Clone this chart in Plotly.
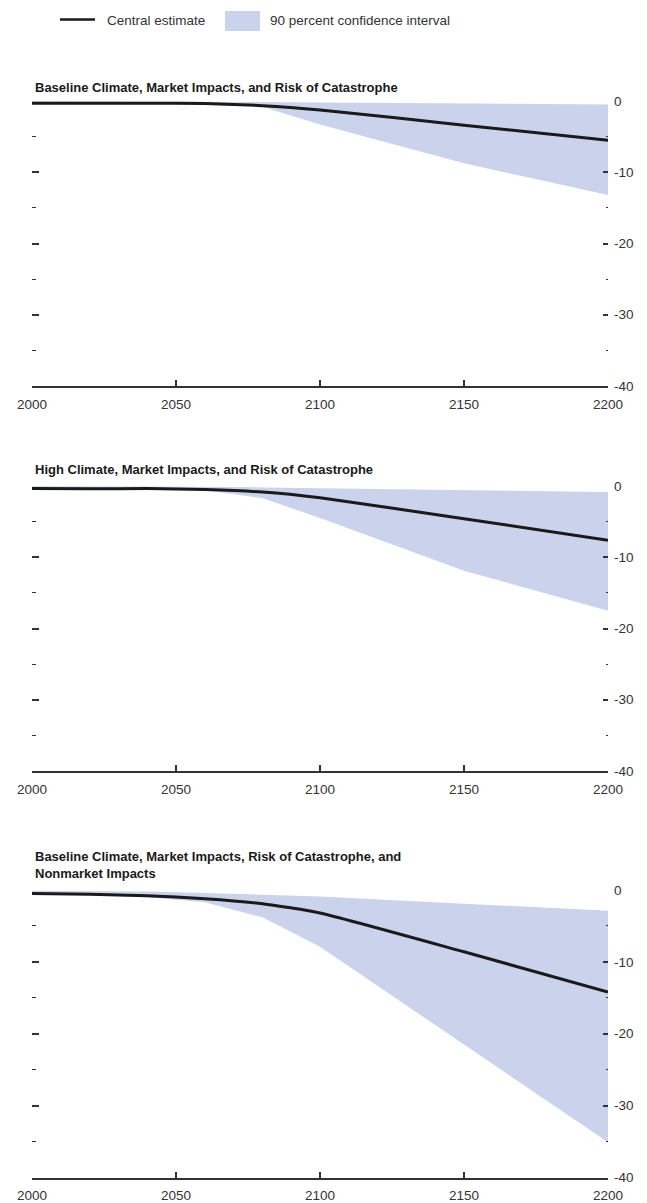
import plotly.graph_objects as go

# The page body adds an 8px margin, so the figure is sized to fit inside it
PAGE_W, PAGE_H = 647, 1203
OFF = 8
W, H = PAGE_W - OFF, PAGE_H - OFF

# ---------------- data ----------------
years = [2000, 2020, 2040, 2060, 2080, 2100, 2150, 2200]

title_1 = "Baseline Climate, Market Impacts, and Risk of Catastrophe"
central_1 = [-0.3, -0.3, -0.3, -0.35, -0.65, -1.25, -3.4, -5.5]
lower_1 = [-0.3, -0.3, -0.35, -0.45, -0.8, -3.3, -8.75, -13.2]
upper_1 = [-0.05, -0.05, -0.05, -0.1, -0.15, -0.2, -0.35, -0.5]

title_2 = "High Climate, Market Impacts, and Risk of Catastrophe"
central_2 = [-0.35, -0.4, -0.35, -0.5, -0.85, -1.65, -4.6, -7.6]
lower_2 = [-0.35, -0.4, -0.4, -0.6, -1.7, -4.5, -11.9, -17.5]
upper_2 = [-0.05, -0.05, -0.05, -0.1, -0.2, -0.3, -0.6, -0.85]

title_3 = "Baseline Climate, Market Impacts, Risk of Catastrophe, and<br>Nonmarket Impacts"
central_3 = [-0.5, -0.6, -0.8, -1.2, -1.9, -3.2, -8.6, -14.2]
lower_3 = [-0.6, -0.7, -1.0, -1.7, -3.8, -7.9, -21.5, -35.1]
upper_3 = [-0.1, -0.1, -0.2, -0.4, -0.6, -0.9, -1.9, -2.9]

x_ticks = [2000, 2050, 2100, 2150, 2200]
y_ticks = [-40, -30, -20, -10, 0]
y_tick_text = ["-40", "-30", "-20", "-10", "0"]
y_minor = [-35, -25, -15, -5]

legend_line_label = "Central estimate"
legend_band_label = "90 percent confidence interval"

# ---------------- style ----------------
FONT = "Liberation Sans, Arial, sans-serif"
BAND = "rgb(203,211,236)"
INK = "#1a1a1a"
AX = "#333333"
TICKSIZE = 13.5


def px_x(p):
    return (p - OFF) / W


def px_y(p):
    return 1 - (p - OFF) / H


panels = [
    (title_1, central_1, lower_1, upper_1, 101, 386, 87),
    (title_2, central_2, lower_2, upper_2, 486, 771, 469),
    (title_3, central_3, lower_3, upper_3, 890, 1177.5, 865),
]

fig = go.Figure()
layout = dict(
    width=W, height=H, autosize=False,
    margin=dict(l=0, r=0, t=0, b=0, pad=0),
    paper_bgcolor="white", plot_bgcolor="rgba(0,0,0,0)",
    showlegend=False,
    font=dict(family=FONT, size=TICKSIZE, color=AX),
)
annotations = []
shapes = []

xdom = [px_x(32), px_x(608)]

for i, (title, cen, lo, hi, top, bot, ty) in enumerate(panels, start=1):
    s = "" if i == 1 else str(i)
    r = str(i + 3)
    fig.add_trace(go.Scatter(x=years, y=lo, xaxis="x" + s, yaxis="y" + s,
                             mode="lines", line=dict(width=0, color=BAND),
                             hoverinfo="skip"))
    fig.add_trace(go.Scatter(x=years, y=hi, xaxis="x" + s, yaxis="y" + s,
                             mode="lines", line=dict(width=0, color=BAND),
                             fill="tonexty", fillcolor=BAND, hoverinfo="skip"))
    fig.add_trace(go.Scatter(x=years, y=cen, xaxis="x" + s, yaxis="y" + r,
                             mode="lines",
                             line=dict(width=3, color=INK, shape="spline", smoothing=0.5)))

    layout["xaxis" + s] = dict(
        domain=xdom, anchor="y" + s, range=[2000, 2200], automargin=False,
        tickmode="array", tickvals=x_ticks,
        ticks="inside", ticklen=6, tickwidth=1.5, tickcolor=AX,
        showline=True, linecolor=AX, linewidth=1.5,
        showgrid=False, zeroline=False,
        tickfont=dict(size=TICKSIZE, color=AX, family=FONT),
        ticklabelstandoff=5,
    )
    ydom = [px_y(bot), px_y(top)]
    layout["yaxis" + s] = dict(
        domain=ydom, anchor="x" + s, range=[-40, 0], automargin=False,
        tickmode="array", tickvals=y_ticks,
        ticks="inside", ticklen=7, tickwidth=1.5, tickcolor=AX,
        minor=dict(tickvals=y_minor, ticks="inside", ticklen=3.5,
                   tickwidth=1.2, tickcolor=AX, showgrid=False),
        showticklabels=False, showline=False,
        showgrid=False, zeroline=False,
    )
    layout["yaxis" + r] = dict(
        overlaying="y" + s, side="right", anchor="x" + s, range=[-40, 0],
        automargin=False,
        tickmode="array", tickvals=y_ticks, ticktext=y_tick_text,
        ticks="inside", ticklen=5, tickwidth=1.5, tickcolor=AX,
        minor=dict(tickvals=y_minor, ticks="inside", ticklen=2.5,
                   tickwidth=1.2, tickcolor=AX, showgrid=False),
        showticklabels=True, showline=False,
        showgrid=False, zeroline=False,
        tickfont=dict(size=TICKSIZE, color=AX, family=FONT),
        ticklabelstandoff=5,
    )
    annotations.append(dict(
        text=title, xref="paper", yref="paper",
        x=px_x(33), y=px_y(ty), xanchor="left", yanchor="middle",
        align="left", showarrow=False,
        font=dict(family=FONT, size=13, color=INK, weight="bold"),
    ))

# legend (drawn manually to match the reference layout)
shapes.append(dict(type="line", xref="paper", yref="paper",
                   x0=px_x(60), x1=px_x(95), y0=px_y(19.5), y1=px_y(19.5),
                   line=dict(color=INK, width=2.5)))
shapes.append(dict(type="rect", xref="paper", yref="paper",
                   x0=px_x(225), x1=px_x(260), y0=px_y(31), y1=px_y(11),
                   fillcolor=BAND, line=dict(width=0)))
annotations.append(dict(text=legend_line_label, xref="paper", yref="paper",
                        x=px_x(105), y=px_y(21), xanchor="left", yanchor="middle",
                        showarrow=False, font=dict(family=FONT, size=TICKSIZE, color=AX)))
annotations.append(dict(text=legend_band_label, xref="paper", yref="paper",
                        x=px_x(268), y=px_y(21), xanchor="left", yanchor="middle",
                        showarrow=False, font=dict(family=FONT, size=TICKSIZE, color=AX)))

layout["annotations"] = annotations
layout["shapes"] = shapes
fig.update_layout(**layout)
fig.write_html("out.html")
